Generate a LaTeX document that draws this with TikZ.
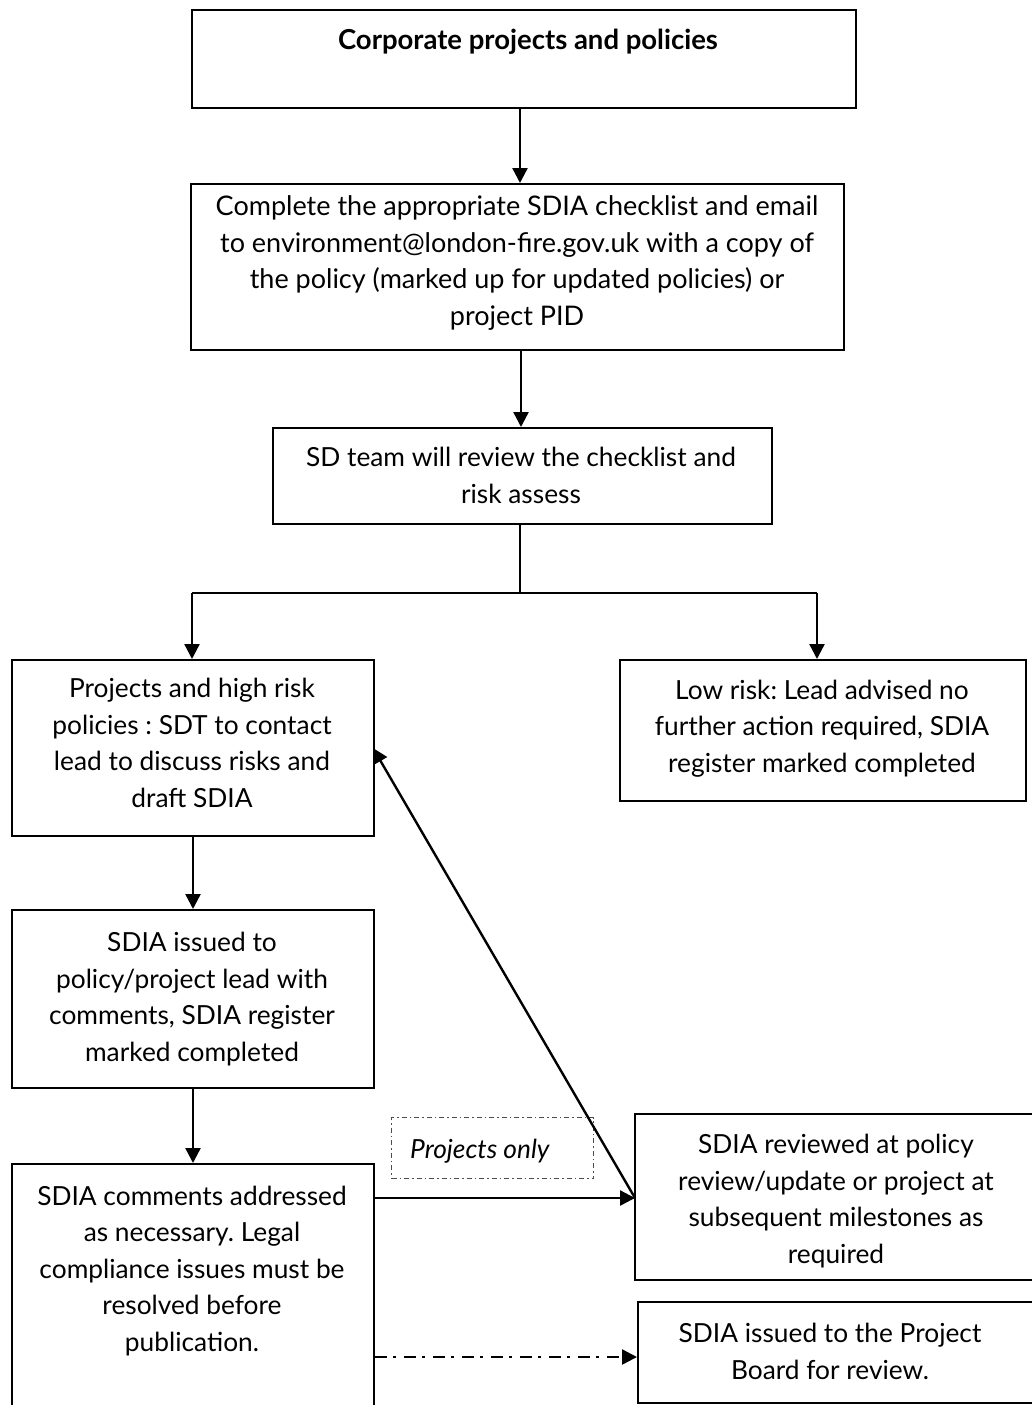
\documentclass[tikz,border=0pt]{standalone}
\usepackage{fontspec}
\setmainfont{Lato}
\usetikzlibrary{arrows.meta}
\frenchspacing
\begin{document}
\begin{tikzpicture}[x=1pt,y=-1pt,
  box/.style={draw=black, line width=2pt, inner sep=0pt, anchor=north west},
  txt/.style={align=center, inner sep=0pt, anchor=base, font=\fontsize{26.3}{36.5}\selectfont},
  arr/.style={line width=2.4pt, -{Triangle[length=15pt,width=15pt]}},
  conn/.style={line width=2pt},
  ddot/.style={line width=2.4pt, dash pattern=on 12pt off 6pt on 3pt off 8pt, -{Triangle[length=15pt,width=15pt]}},
  fine/.style={draw=black!70, line width=1pt, dash pattern=on 5pt off 3pt on 1.5pt off 3pt, inner sep=0pt, anchor=north west}]
\useasboundingbox (0,0) rectangle (1032,1405);
\clip (0,0) rectangle (1032,1405);
\fill[white] (0,0) rectangle (1032,1405);

% boxes
\node[box, minimum width=664pt, minimum height=98pt] (b1) at (191,9) {};
\node[box, minimum width=653pt, minimum height=166pt] (b2) at (190,183) {};
\node[box, minimum width=499pt, minimum height=96pt] (b3) at (272,427) {};
\node[box, minimum width=362pt, minimum height=176pt] (b4) at (11,659) {};
\node[box, minimum width=406pt, minimum height=141pt] (b5) at (619,659) {};
\node[box, minimum width=362pt, minimum height=178pt] (b6) at (11,909) {};
\node[box, minimum width=362pt, minimum height=260pt] (b7) at (11,1163) {};
\node[box, minimum width=410pt, minimum height=166pt] (b8) at (634,1113) {};
\node[box, minimum width=410pt, minimum height=101pt] (b9) at (637,1301) {};
\node[fine, minimum width=202pt, minimum height=61pt] (po) at (391,1117) {};

% texts (anchor=base is the baseline of the last line)
\node[txt, font=\fontsize{27.5}{36.5}\selectfont\bfseries] (t1) at (528,50) {Corporate projects and policies};
\node[txt, font=\fontsize{27}{36.5}\selectfont] (t2) at (517,325) {Complete the appropriate SDIA checklist and email\\to environment@london-fire.gov.uk with a copy of\\the policy (marked up for updated policies) or\\project PID};
\node[txt] (t3) at (521,503) {SD team will review the checklist and\\risk assess};
\node[txt] (t4) at (192,807) {Projects and high risk\\policies : SDT to contact\\lead to discuss risks and\\draft SDIA};
\node[txt] (t5) at (822,772) {Low risk: Lead advised no\\further action required, SDIA\\register marked completed};
\node[txt] (t6) at (192,1061) {SDIA issued to\\policy/project lead with\\comments, SDIA register\\marked completed};
\node[txt] (t7) at (192,1351) {SDIA comments addressed\\as necessary. Legal\\compliance issues must be\\resolved before\\publication.};
\node[txt] (t8) at (836,1263) {SDIA reviewed at policy\\review/update or project at\\subsequent milestones as\\required};
\node[txt] (t9) at (830,1379) {SDIA issued to the Project\\Board for review.};
\node[txt, anchor=base west, font=\fontsize{26.3}{36.5}\selectfont\itshape] (tpo) at (410,1158) {Projects only};

% connectors
\draw[arr] (b1.south -| 520,0) -- (b2.north -| 520,0);
\draw[arr] (b2.south -| 521,0) -- (b3.north -| 521,0);
\coordinate (split) at (520,593);
\coordinate (sl) at (192,593);
\coordinate (sr) at (817,593);
\draw[conn] (b3.south -| split) -- (split);
\draw[conn] (sl) -- (sr);
\draw[arr] (sl) -- (sl |- b4.north);
\draw[arr] (sr) -- (sr |- b5.north);
\draw[arr] (b4.south) -- (b6.north);
\draw[arr] (b6.south) -- (b7.north);
\coordinate (jn) at (635,1198);
\coordinate (b4in) at (373,748);
\draw[arr] (b7.east |- jn) -- (jn);
\draw[arr] (jn) -- (b4in);
\coordinate (dd) at (637,1357);
\draw[ddot] (b7.east |- dd) -- (dd);
\end{tikzpicture}
\end{document}
